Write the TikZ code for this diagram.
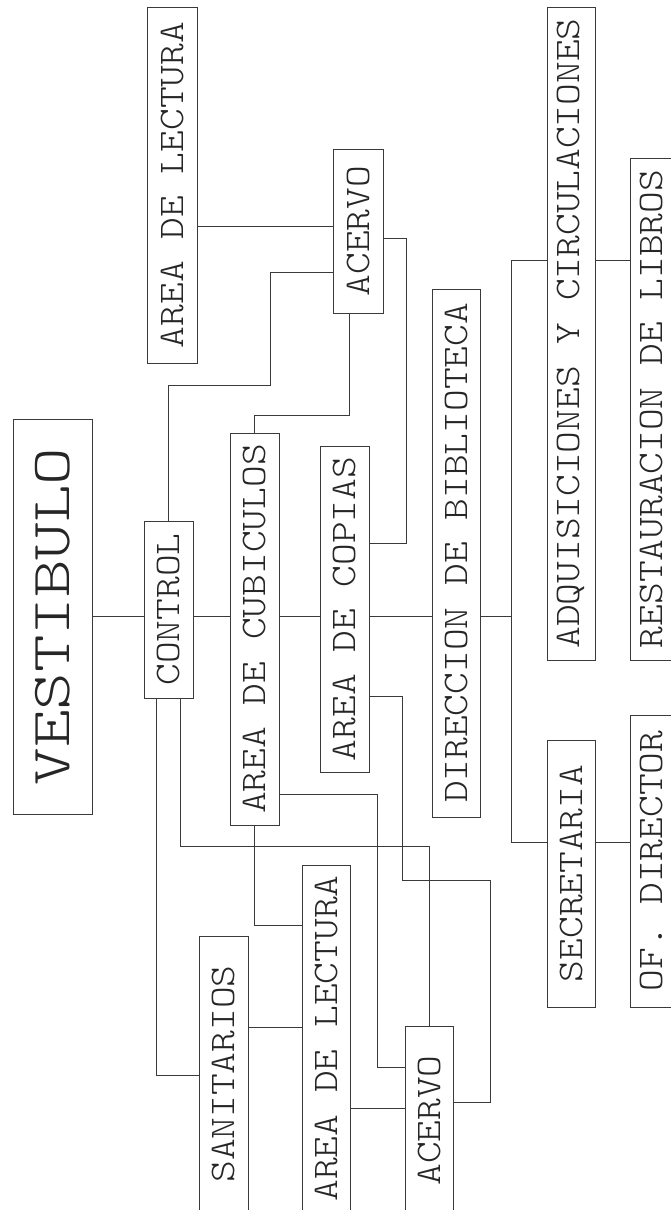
\documentclass[tikz,border=0pt]{standalone}
\usepackage{graphicx}
\definecolor{ink}{HTML}{3A3A3A}
\newcommand{\roomtext}[2][1.15]{\rotatebox{90}{\scalebox{#1}[1]{#2}}}

\begin{document}
\begin{tikzpicture}[x=1pt,y=-1pt,
 room/.style={draw=ink,line width=0.7pt,inner sep=0pt,text=black!85,
  font=\ttfamily\fontseries{l}\fontsize{36pt}{36pt}\selectfont},
 link/.style={draw=ink,line width=0.7pt}]
 \useasboundingbox (0,0) rectangle (670,1210);
 % entrance
 \node[room,minimum width=79pt,minimum height=395pt,
  font=\ttfamily\fontseries{l}\fontsize{55pt}{55pt}\selectfont]
  (vest) at (52.5,616.5) {\roomtext[1.3]{VESTIBULO}};
 % all other rooms: name/left/top/right/bottom/text
 \foreach \n/\xa/\ya/\xb/\yb/\t in {
  control/144/521/193/698/CONTROL,
  lecA/147/7/197/363/AREA DE LECTURA,
  acerA/333/149/383/313/ACERVO,
  cub/230/433/279/825/AREA DE CUBICULOS,
  cop/320/446/369/772/AREA DE COPIAS,
  dir/432/289/480/817/DIRECCION DE BIBLIOTECA,
  adq/547/7/595/660/ADQUISICIONES Y CIRCULACIONES,
  res/630/158/672/660/RESTAURACION DE LIBROS,
  sec/547/740/595/1007/SECRETARIA,
  ofd/630/715/672/1007/OF. DIRECTOR,
  san/199/936/248/1212/SANITARIOS,
  lecB/302/865/350/1212/AREA DE LECTURA,
  acerB/405/1026/453/1215/ACERVO}{
  \node[room,minimum width={(\xb-\xa)*1pt},minimum height={(\yb-\ya)*1pt}]
   (\n) at ({(\xa+\xb)/2},{(\ya+\yb)/2}) {\roomtext{\t}};
 }
 % main line and the office bus
 \coordinate (busN) at (511,260);
 \coordinate (busS) at (511,842);
 \draw[link] (vest.east) -- (vest.east -| control.west)
  (vest.east -| control.east) -- (vest.east -| cub.west)
  (vest.east -| cub.east) -- (vest.east -| cop.west)
  (vest.east -| cop.east) -- (vest.east -| dir.west)
  (vest.east -| dir.east) -- (vest.east -| busN);
 \draw[link] (adq.west |- busN) -- (busN) -- (busS) -- (sec.west |- busS);
 \draw[link] (adq.east |- busN) -- (res.west |- busN);
 \draw[link] (sec.east |- busS) -- (ofd.west |- busS);
 % upper branches
 \draw[link] (control.north) |- (270,385) |- (acerA.west |- 0,272);
 \draw[link] (lecA.east |- 0,226) -- (acerA.west |- 0,226);
 \draw[link] (acerA.south -| 349,0) |- (cub.north |- 0,415) -- (cub.north);
 \draw[link] (acerA.east |- 0,238) -| (406,543) -- (cop.east |- 0,543);
 % lower branches
 \draw[link] (control.south -| 156,0) |- (san.west |- 0,1075);
 \draw[link] (control.south -| 180,0) |- (acerB.north |- 0,846) -- (acerB.north);
 \draw[link] (cub.east |- 0,794) -| (377,1067) -- (acerB.west |- 0,1067);
 \draw[link] (cub.south) |- (lecB.west |- 0,925);
 \draw[link] (san.east |- 0,1027) -- (lecB.west |- 0,1027);
 \draw[link] (cop.east |- 0,696) -| (402,880) -| (490,1102) -- (acerB.east |- 0,1102);
 \draw[link] (lecB.east |- 0,1108) -- (acerB.west |- 0,1108);
\end{tikzpicture}
\end{document}
